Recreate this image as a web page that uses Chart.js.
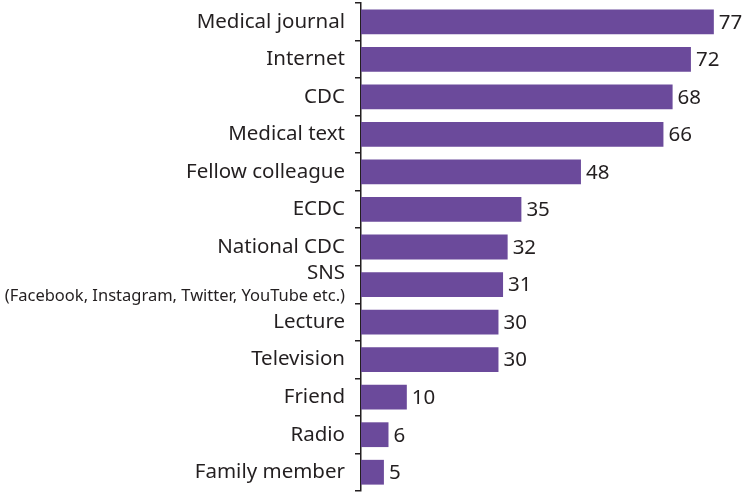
<!DOCTYPE html>
<html>
<head>
<meta charset="utf-8">
<script src="https://cdn.jsdelivr.net/npm/chart.js@4"></script>
<style>
  html, body { margin: 0; padding: 0; background: #fff; }
  #wrap { width: 745px; height: 494px; position: relative; }
</style>
</head>
<body>
<div id="wrap"><canvas id="sourceChart"></canvas></div>
<script>
const sources = ['Medical journal', 'Internet', 'CDC', 'Medical text', 'Fellow colleague', 'ECDC',
                 'National CDC', 'SNS', 'Lecture', 'Television', 'Friend', 'Radio', 'Family member'];
const subLabels = ['', '', '', '', '', '', '', '(Facebook, Instagram, Twitter, YouTube etc.)', '', '', '', '', ''];
const counts = [77, 72, 68, 66, 48, 35, 32, 31, 30, 30, 10, 6, 5];

const textColor = '#231f20';
const fontFamily = "'Noto Sans', 'DejaVu Sans', sans-serif";

// draws category names left of the axis and values at the bar ends
const labelPlugin = {
    id: 'labelPlugin',
    afterDatasetsDraw(chart) {
        const c = chart.ctx;
        const yScale = chart.scales.y;
        const meta = chart.getDatasetMeta(0);
        c.save();
        c.fillStyle = textColor;
        c.textBaseline = 'middle';
        sources.forEach((name, i) => {
            const y = yScale.getPixelForTick(i);
            const x = yScale.right - 16;
            c.textAlign = 'right';
            if (subLabels[i]) {
                c.font = '20.5px ' + fontFamily;
                c.fillText(name, x, y - 11);
                c.font = '16.5px ' + fontFamily;
                c.fillText(subLabels[i], x, y + 12);
            } else {
                c.font = '20.5px ' + fontFamily;
                c.fillText(name, x, y);
            }
            const bar = meta.data[i];
            c.textAlign = 'left';
            c.font = '20.5px ' + fontFamily;
            c.fillText(String(counts[i]), bar.x + 5, bar.y + 1);
        });
        c.restore();
    }
};

const ctx = document.getElementById('sourceChart').getContext('2d');
const sourceChart = new Chart(ctx, {
    type: 'bar',
    data: {
        labels: sources,
        datasets: [{
            data: counts,
            backgroundColor: '#6b4a9b',
            borderWidth: 0,
            categoryPercentage: 1,
            barPercentage: 0.66
        }]
    },
    options: {
        indexAxis: 'y',
        responsive: true,
        maintainAspectRatio: false,
        animation: false,
        layout: { padding: { top: 3, bottom: 3, left: 0, right: 0 } },
        plugins: {
            legend: { display: false },
            tooltip: { enabled: false }
        },
        scales: {
            x: {
                display: false,
                min: 0,
                max: 83.8
            },
            y: {
                afterFit: scale => { scale.width = 361; },
                ticks: { display: false },
                grid: {
                    offset: true,
                    drawOnChartArea: false,
                    drawTicks: true,
                    tickLength: 6,
                    color: textColor,
                    lineWidth: 1.5
                },
                border: { display: true, color: textColor, width: 1.5 }
            }
        }
    },
    plugins: [labelPlugin]
});
</script>
</body>
</html>
